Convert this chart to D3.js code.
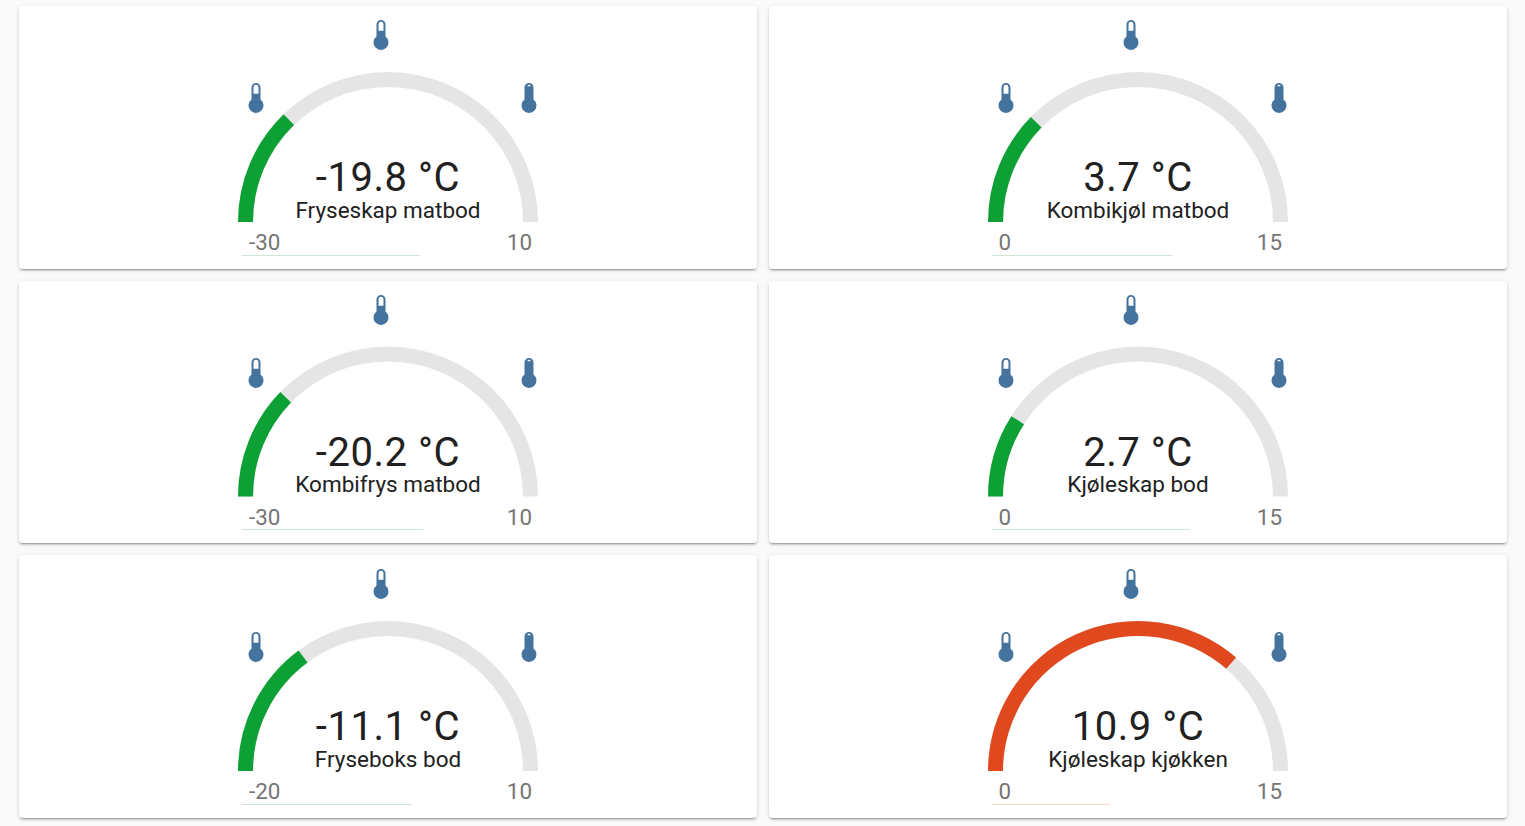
<!DOCTYPE html>
<html><head><meta charset="utf-8">
<script src="https://cdn.jsdelivr.net/npm/d3@7"></script>
<style>
html,body{margin:0;padding:0;background:#fafafa;overflow:hidden;width:1525px;height:826px}
.card{position:absolute;width:738px;background:#fff;border-radius:4px;box-shadow:0 2px 2px 0 rgba(0,0,0,.14),0 1px 5px 0 rgba(0,0,0,.12),0 3px 1px -2px rgba(0,0,0,.2)}
svg{position:absolute;left:0;top:0}
text{font-family:Roboto,sans-serif}
</style></head><body>
<script>
const names = ["Fryseskap matbod","Kombikjøl matbod","Kombifrys matbod","Kjøleskap bod","Fryseboks bod","Kjøleskap kjøkken"];
const values = [-19.8,3.7,-20.2,2.7,-11.1,10.9];
const mins = [-30,0,-30,0,-20,0];
const maxs = [10,15,10,15,10,15];
const unit = "°C";
const severity = ["green","green","green","green","green","orange"];
const underlineShare = [0.241,0.244,0.246,0.268,0.230,0.159];

const colors = {green:"#0da035",orange:"#e0481e"};
const pale = {green:"#cfe6d3",orange:"#fbd5c9"};
const cols = [19,769], rows = [6,280.5,555], heights = [263,262.5,263];
const baseY = 216;

const body = d3.select("body");
names.forEach((n,i)=>{
  body.append("div").attr("class","card")
    .style("left",cols[i%2]+"px").style("top",rows[Math.floor(i/2)]+"px")
    .style("height",heights[Math.floor(i/2)]+"px");
});
const svg = body.append("svg").attr("width",1525).attr("height",826);
const thermo = "M15 13V5A3 3 0 0 0 9 5V13A5 5 0 1 0 15 13M12 3.1A1.65 1.65 0 0 1 13.65 4.75V9.1H10.35V4.75A1.65 1.65 0 0 1 12 3.1Z";
const thermoFull = "M15 13V5A3 3 0 0 0 9 5V13A5 5 0 1 0 15 13M12 3.2A1.2 1.2 0 0 1 13.1 4.1H10.9A1.2 1.2 0 0 1 12 3.2Z";
const icons = [{dx:-7,dy:-187,d:thermo},{dx:-132,dy:-124,d:thermo},{dx:141,dy:-124,d:thermoFull}];
const arc = d3.arc().innerRadius(135).outerRadius(150);

names.forEach((n,i)=>{
  const r = Math.floor(i/2);
  const cx = cols[i%2]+369, cy = rows[r]+baseY;
  // middle row sits on a half pixel: icons and texts snap to whole pixels
  const half = r===1 ? 0.5 : 0;
  const g = svg.append("g").attr("transform",`translate(${cx},${cy})`);
  const a = d3.scaleLinear().domain([mins[i],maxs[i]]).range([-Math.PI/2,Math.PI/2]);
  g.append("path").attr("d",arc({startAngle:-Math.PI/2,endAngle:Math.PI/2})).attr("fill","#e5e5e5");
  g.append("path").attr("d",arc({startAngle:-Math.PI/2,endAngle:a(values[i])})).attr("fill",colors[severity[i]]);
  g.selectAll("path.icon").data(icons).join("path").attr("class","icon")
    .attr("d",d=>d.d).attr("fill","#44739e").attr("fill-rule","evenodd")
    .attr("transform",d=>`translate(${d.dx-18},${d.dy-18+half}) scale(1.5)`);
  g.append("text").attr("x",0).attr("y",-31+half).attr("text-anchor","middle")
    .attr("font-size",40).attr("letter-spacing","0.55").attr("fill","#212121").text(`${values[i]} ${unit}`);
  g.append("text").attr("x",0).attr("y",-4-half).attr("text-anchor","middle")
    .attr("font-size",22.5).attr("fill","#212121").text(n);
  g.append("text").attr("x",mins[i]<0?-139:-139.5).attr("y",28+half).attr("text-anchor","start")
    .attr("font-size",22.4).attr("fill","#757575").text(mins[i]);
  g.append("text").attr("x",144).attr("y",28+half).attr("text-anchor","end")
    .attr("font-size",22.4).attr("fill","#757575").text(maxs[i]);
  const u = d3.scaleLinear().domain([0,1]).range([-146,592]);
  const ly = 33.5 - half;
  g.append("line").attr("x1",u(0)).attr("x2",u(underlineShare[i])).attr("y1",ly).attr("y2",ly)
    .attr("stroke",pale[severity[i]]).attr("stroke-width",1);
});
</script>
</body></html>
